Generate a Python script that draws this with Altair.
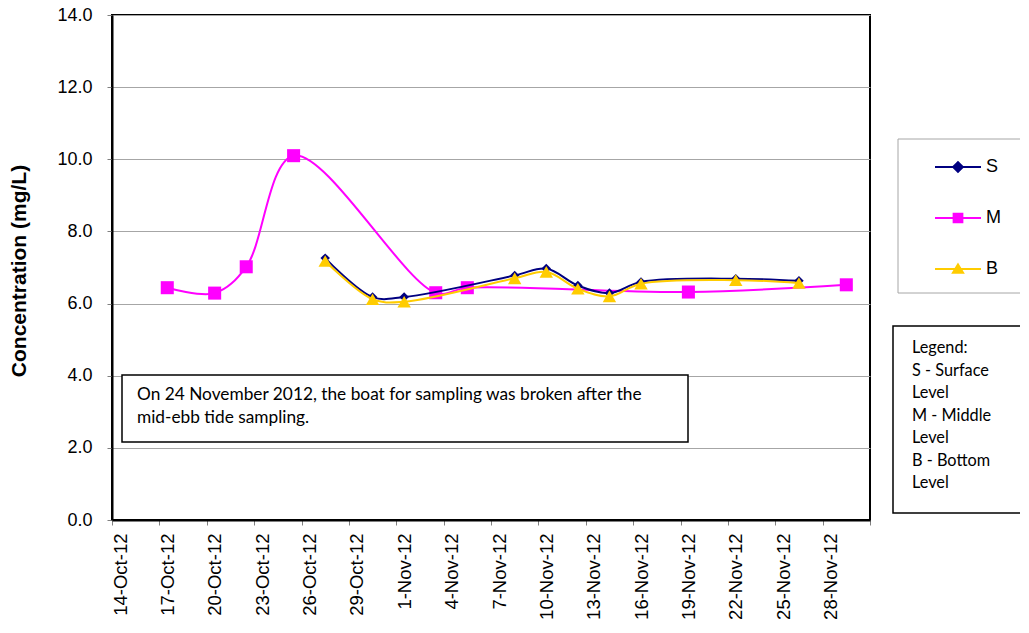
import altair as alt
import pandas as pd

# ---------------- data ----------------
series = ["S", "M", "B"]
colors = ["#000080", "#FF00FF", "#FFCC00"]

dates_S = ["2012-10-27", "2012-10-30", "2012-11-01", "2012-11-08", "2012-11-10",
           "2012-11-12", "2012-11-14", "2012-11-16", "2012-11-22", "2012-11-26"]
vals_S = [7.26, 6.18, 6.18, 6.78, 6.97, 6.50, 6.29, 6.60, 6.69, 6.63]

dates_M = ["2012-10-17", "2012-10-20", "2012-10-22", "2012-10-25", "2012-11-03",
           "2012-11-05", "2012-11-19", "2012-11-29"]
vals_M = [6.44, 6.29, 7.02, 10.10, 6.30, 6.44, 6.32, 6.52]

dates_B = ["2012-10-27", "2012-10-30", "2012-11-01", "2012-11-08", "2012-11-10",
           "2012-11-12", "2012-11-14", "2012-11-16", "2012-11-22", "2012-11-26"]
vals_B = [7.18, 6.12, 6.05, 6.70, 6.88, 6.41, 6.20, 6.55, 6.65, 6.57]

# x tick dates (every 3 days), last one unlabeled
tick_dates = [(2012, 10, d) for d in [14, 17, 20, 23, 26, 29]] + \
             [(2012, 11, d) for d in [1, 4, 7, 10, 13, 16, 19, 22, 25, 28]] + \
             [(2012, 12, 1)]
y_ticks = [0, 2, 4, 6, 8, 10, 12, 14]

note_lines = ["On 24 November 2012, the boat for sampling was broken after the",
              "mid-ebb tide sampling."]
legend_note_lines = ["Legend:", "S - Surface", "Level", "M - Middle", "Level",
                     "B - Bottom", "Level"]

# ---------------- table ----------------
rows = []
for s, ds, vs in [("S", dates_S, vals_S), ("M", dates_M, vals_M), ("B", dates_B, vals_B)]:
    for d, v in zip(ds, vs):
        rows.append({"series": s, "date": d, "value": v})
df = pd.DataFrame(rows)

W, H = 758, 505

def dt(t):
    return alt.DateTime(year=t[0], month=t[1], date=t[2], utc=True)

x_axis = alt.Axis(
    values=[dt(t) for t in tick_dates],
    labelExpr="datum.value >= utc(2012, 11, 1) ? '' : utcFormat(datum.value, '%-d-%b-%y')",
    labelAngle=-90, labelPadding=8, labelOffset=8,
    grid=False, title=None,
)
x_scale = alt.Scale(type="utc", domain=[dt(tick_dates[0]), dt(tick_dates[-1])])
x_enc = alt.X("t:T", scale=x_scale, axis=x_axis)

y_axis = alt.Axis(
    values=y_ticks, format=".1f", grid=True, gridColor="#a6a6a6", gridWidth=1,
    labelPadding=15, labelFontSize=18,
    title="Concentration (mg/L)", titleFontWeight="bold", titleFontSize=21,
    titleX=-93, titleY=H / 2 + 3, titleAngle=-90, titleAlign="center", titleBaseline="middle",
)
y_scale = alt.Scale(domain=[0, 14], nice=False)
y_enc = alt.Y("value:Q", scale=y_scale, axis=y_axis)

color_of = dict(zip(series, colors))

base = alt.Chart(df).transform_calculate(
    t="toNumber(toDate(datum.date)) + 43200000"   # centre of day slot
)

marker_shapes = {"S": "diamond", "M": "square", "B": "triangle-up"}
marker_sizes = {"S": 90, "M": 170, "B": 180}

layers = []
for s in ["M", "S", "B"]:
    sub = base.transform_filter(alt.datum.series == s)
    layers.append(
        sub.mark_line(interpolate="catmull-rom", strokeWidth=2, color=color_of[s]).encode(
            x=x_enc, y=y_enc
        )
    )
    layers.append(
        sub.mark_point(shape=marker_shapes[s], filled=True, size=marker_sizes[s], opacity=1,
                       color=color_of[s]).encode(
            x=x_enc, y=y_enc
        )
    )

# legend (line + marker symbols)
legend_paths = [
    "M-1,0H1M-0.21,0L0,-0.21L0.21,0L0,0.21Z",
    "M-1,0H1M-0.19,-0.19H0.19V0.19H-0.19Z",
    "M-1,0H1M0,-0.2L0.22,0.16L-0.22,0.16Z",
]
leg = alt.Legend(
    title=None, orient="none", legendX=822, legendY=128, zindex=5,
    symbolSize=2116, symbolStrokeWidth=2, symbolOpacity=1,
    labelFont="Liberation Sans", labelFontSize=18, labelColor="black",
    labelOffset=4, rowPadding=18, padding=0,
)
# points placed below the y-domain and clipped: only the legend shows
legend_layer = base.transform_calculate(off="-100").mark_point(
    filled=True, opacity=1, clip=True
).encode(
    x=x_enc,
    y=alt.Y("off:Q", scale=y_scale, axis=y_axis),
    fill=alt.Fill("series:N", scale=alt.Scale(domain=series, range=colors), legend=leg),
    stroke=alt.Stroke("series:N", scale=alt.Scale(domain=series, range=colors), legend=leg),
    shape=alt.Shape("series:N", scale=alt.Scale(domain=series, range=legend_paths), legend=leg),
)

one = alt.Chart(alt.Data(values=[{"k": 0}]))

legend_box = one.mark_rect(fill="transparent", stroke="#a6a6a6", strokeWidth=1).encode(
    x=alt.value(786), x2=alt.value(920), y=alt.value(124), y2=alt.value(278)
)
note_box = one.mark_rect(fill="white", stroke="black", strokeWidth=1.5).encode(
    x=alt.value(10), x2=alt.value(576), y=alt.value(360), y2=alt.value(427)
)
note_text = one.mark_text(align="left", baseline="middle", font="Lato", fontSize=17.3,
                          lineHeight=23, color="black").encode(
    x=alt.value(25), y=alt.value(380), text=alt.value(note_lines)
)
legnote_box = one.mark_rect(fill="white", stroke="black", strokeWidth=1.5).encode(
    x=alt.value(781), x2=alt.value(920), y=alt.value(311), y2=alt.value(498)
)
legnote_text = one.mark_text(align="left", baseline="middle", font="Lato", fontSize=16.3,
                             lineHeight=22.5, color="black").encode(
    x=alt.value(800), y=alt.value(333), text=alt.value(legend_note_lines)
)

chart = alt.layer(
    legend_box, note_box, note_text, legnote_box, legnote_text,
    *layers, legend_layer
).properties(
    width=W, height=H,
    autosize=alt.AutoSizeParams(type="none"),
    padding={"left": 104, "top": 7, "right": 150, "bottom": 110},
).configure_view(
    stroke="black", strokeWidth=2
).configure_axis(
    domainColor="black", domainWidth=2, tickColor="#808080", tickSize=5,
    labelFont="Liberation Sans", labelFontSize=18.5, labelColor="black",
    titleFont="Liberation Sans", titleColor="black",
)

chart.save("out.html", embed_options={"renderer": "svg", "actions": False})
